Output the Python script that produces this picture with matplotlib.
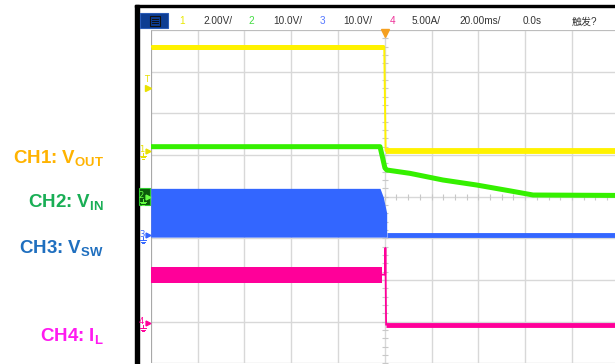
import numpy as np
import matplotlib.pyplot as plt
from matplotlib.patches import Rectangle
from matplotlib.transforms import blended_transform_factory

plt.rcParams['mathtext.fontset'] = 'custom'
plt.rcParams['mathtext.rm'] = 'Liberation Sans'
plt.rcParams['mathtext.bf'] = 'Liberation Sans:bold'

# ---- scope header ----
ch_ids = ['1', '2', '3', '4']
ch_scale_txt = ['2.00V/', '10.0V/', '10.0V/', '5.00A/']
timebase_txt = '20.00ms/'
delay_txt = '0.0s'
trig_txt = '触发?'

# volts (amps) per division and ground offset (divisions from screen centre)
v_per_div = [2.0, 10.0, 10.0, 5.0]
gnd_div = [1.10, 0.0, -0.92, -3.03]
trig_level = 3.0  # V, on CH1

# ---- traces (time in ms, trigger at 0) ----
# CH1 Vout
t_vout = [-100, -0.2, 0.4, 100]
vout = [5.0, 5.0, 0.0, 0.0]

# CH2 Vin
t_vin = [-100, -2.0, 0.1, 0.9, 10.8, 24.9, 39.3, 53.5, 63.4, 100]
vin = [12.0, 12.0, 6.9, 6.4, 5.6, 4.0, 2.8, 1.4, 0.4, 0.3]

# CH3 Vsw - switching envelope, then off
t_sw = [-100, -2.0, -0.6, 0.85]
vsw_hi = [11.2, 11.2, 9.1, 5.3]
vsw_lo = [-0.5, -0.5, -0.5, -0.5]
t_sw_off = [0.85, 100]
vsw_off = [0.0, 0.0]

# CH4 IL - ripple band, spike, then zero
t_il = [-100, -1.3]
il_hi = [6.7, 6.7]
il_lo = [4.8, 4.8]
t_il_off = [-1.3, 0.2, 0.3, 0.6, 100]
il_off = [5.8, 5.8, 9.0, -0.2, -0.2]

labels = [r'CH1: $\mathbf{V_{OUT}}$', r'CH2: $\mathbf{V_{IN}}$',
          r'CH3: $\mathbf{V_{SW}}$', r'CH4: $\mathbf{I_{L}}$']
label_cols = ['#FFB300', '#19AE55', '#1F6FBF', '#FF1AF0']
trace_cols = ['#FFF200', '#35F000', '#3366FF', '#FF0099']
hdr_num_cols = ['#E8E800', '#44DD44', '#5577FF', '#EE3399']


def to_div(v, ch):
    return gnd_div[ch] + np.asarray(v) / v_per_div[ch]


W, H = 615, 364
fig = plt.figure(figsize=(W / 100, H / 100), dpi=100)
fig.patch.set_facecolor('white')

# screen: 10 x 8 divisions, left edge at 150.7px, top at 30px
x0, y0, dx, dy = 150.7, 30.0, 46.8, 41.67
ax = fig.add_axes([x0 / W, (H - y0 - 8 * dy) / H, 10 * dx / W, 8 * dy / H])
ax.set_xlim(-100, 100)
ax.set_ylim(-4, 4)
ax.axis('off')

for k in range(-4, 6):
    ax.axvline(k * 20, color='#d8d8d8', lw=1.0, zorder=1)
for j in range(-4, 5):
    ax.axhline(j, color='#d8d8d8', lw=1.0, zorder=1)
ax.axvline(-100, color='#a8a8a8', lw=1.6, zorder=1)
ax.axhline(4, color='#b8b8b8', lw=1.2, zorder=1)
ax.plot(np.arange(-100, 101, 5), np.zeros(41), ls='none', marker='|',
        ms=4, mew=0.8, color='#c8c8c8', zorder=1)
ax.plot(np.zeros(41), np.arange(-4, 4.01, 0.2), ls='none', marker='_',
        ms=4, mew=0.8, color='#c8c8c8', zorder=1)

# CH3 switch node
ax.fill_between(t_sw, to_div(vsw_lo, 2), to_div(vsw_hi, 2),
                color=trace_cols[2], lw=0, zorder=3)
ax.plot(t_sw_off, to_div(vsw_off, 2), color=trace_cols[2], lw=3.5,
        solid_capstyle='butt', zorder=3)

# CH4 inductor current
ax.fill_between(t_il, to_div(il_lo, 3), to_div(il_hi, 3),
                color=trace_cols[3], lw=0, zorder=3)
ax.plot(t_il_off[:4], to_div(il_off[:4], 3), color=trace_cols[3], lw=1.3,
        zorder=3)
ax.plot(t_il_off[3:], to_div(il_off[3:], 3), color=trace_cols[3], lw=3.5,
        solid_capstyle='butt', zorder=3)

# CH2 input voltage
ax.plot(t_vin, to_div(vin, 1), color=trace_cols[1], lw=3.6,
        solid_capstyle='butt', zorder=4)

# CH1 output voltage
ax.plot(t_vout, to_div(vout, 0), color=trace_cols[0], lw=1.4, zorder=5)
ax.plot(t_vout[:2], to_div(vout[:2], 0), color=trace_cols[0], lw=3.6,
        solid_capstyle='butt', zorder=5)
ax.plot(t_vout[2:], to_div(vout[2:], 0), color=trace_cols[0], lw=4.2,
        solid_capstyle='butt', zorder=5)

# trigger position marker
ax.plot(0, 3.93, marker='v', ms=6, color='#F5A020', clip_on=False, zorder=6)

# ---- overlay in pixel coords ----
ov = fig.add_axes([0, 0, 1, 1], zorder=5)
ov.set_xlim(0, W)
ov.set_ylim(H, 0)
ov.axis('off')
ov.patch.set_visible(False)

ov.add_patch(Rectangle((134.5, 5), 4.6, H, color='black'))
ov.add_patch(Rectangle((134.5, 5), W, 2, color='black'))

# header
ov.add_patch(Rectangle((140, 13), 28, 15, facecolor='#0d3d92',
                       edgecolor='#2a5cb8', lw=0.8))
ov.add_patch(Rectangle((149.5, 15.5), 10, 10, facecolor='none',
                       edgecolor='#111111', lw=0.8))
for yy in (18.5, 20.8, 23.1):
    ov.plot([151.5, 157.5], [yy, yy], color='#111111', lw=0.7)

hfont = dict(family=['Liberation Sans', 'Noto Sans CJK SC'], fontsize=7.2,
             va='center', ha='center')
num_x = [181.7, 251.7, 322.3, 392.3]
scale_x = [217.5, 287.5, 357.5, 426.5]
for i in range(4):
    ov.text(num_x[i], 21.5, ch_ids[i], color=hdr_num_cols[i], **hfont)
    ov.text(scale_x[i], 21.5, ch_scale_txt[i], color='#333333', **hfont)
ov.text(480, 21.5, timebase_txt, color='#333333', **hfont)
ov.text(532, 21.5, delay_txt, color='#333333', **hfont)
ov.text(584, 21.5, trig_txt, color='#333333', **hfont)

# channel labels on the left
lab_base = [162.7, 206.7, 252.5, 340.5]
for i in range(4):
    ov.text(104, lab_base[i], labels[i], color=label_cols[i], fontsize=13.5,
            family='Liberation Sans', fontweight='bold', ha='right',
            va='baseline')

# channel ground markers (x in px, y in divisions)
bt = blended_transform_factory(ov.transData, ax.transData)
pxd = 1 / dy


def ground_sym(y, col):
    ov.plot([143, 143], [y - 2 * pxd, y - 5 * pxd], color=col, lw=0.7,
            transform=bt)
    for n, hw in enumerate((3.0, 2.0, 1.0)):
        yy = y - (5 + 1.6 * n) * pxd
        ov.plot([143 - hw, 143 + hw], [yy, yy], color=col, lw=0.7,
                transform=bt)


for i in range(4):
    y = gnd_div[i]
    col = trace_cols[i] if i != 0 else '#E8E000'
    if i == 1:
        ov.add_patch(Rectangle((138.6, y - 0.21), 11.4, 0.42,
                               facecolor='#0b5a0b', edgecolor='#2ecc2e',
                               lw=0.8, transform=bt))
        col = '#66FF44'
    ov.text(141.5, y + 1 * pxd, ch_ids[i], color=col, fontsize=6,
            ha='center', va='center', transform=bt)
    ov.plot(148, y, marker='>', ms=3.5, color=col, transform=bt,
            clip_on=False)
    ground_sym(y, col)

# CH1 trigger level
ty = to_div(trig_level, 0)
ov.plot(148, ty, marker='>', ms=4, color='#E8E000', transform=bt)
ov.text(147, ty + 9 * pxd, 'T', color='#E8E000', fontsize=6, ha='center',
        va='center', transform=bt)

fig.savefig('out.png', dpi=100)
